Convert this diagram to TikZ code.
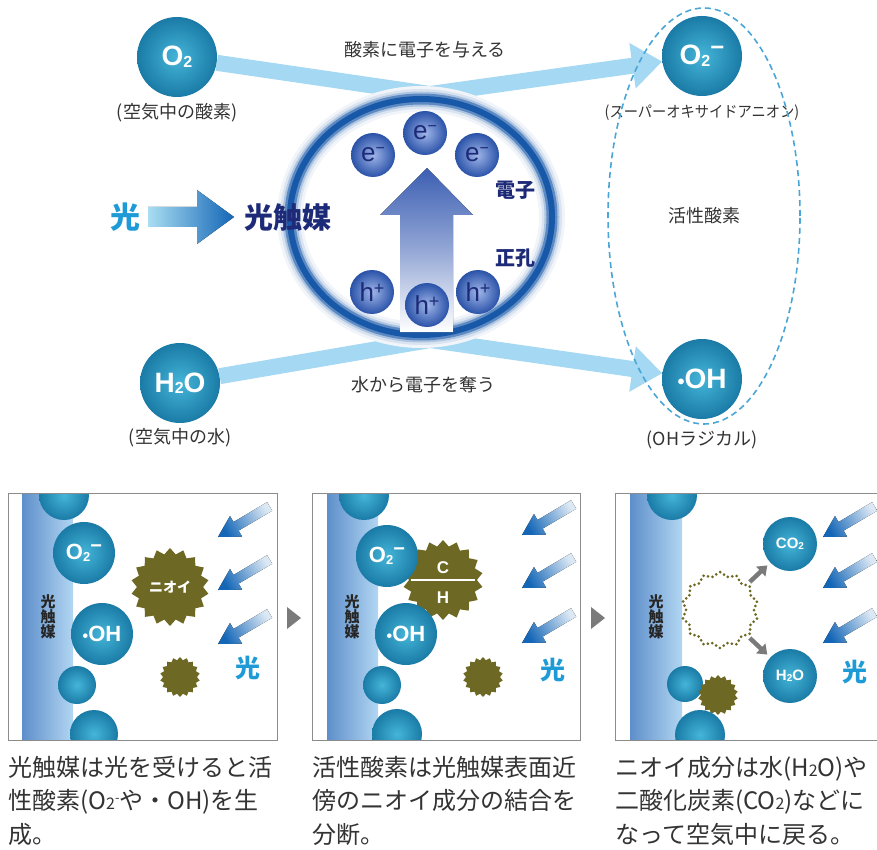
\documentclass[tikz,border=0pt]{standalone}
\usepackage{fontspec}
\setmainfont{Noto Sans CJK JP}
\newfontfamily\latin{Liberation Sans}
\newfontfamily\arial{Liberation Sans}
\usepackage{xcolor}
\usepackage{tikz}
\usetikzlibrary{arrows.meta,shapes.geometric,backgrounds}

\definecolor{navy}{HTML}{1D2A78}
\definecolor{skyband}{HTML}{A5D8F2}
\definecolor{ringblue}{HTML}{1858A8}
\definecolor{lightblue}{HTML}{1E9BD7}
\definecolor{rayblue}{HTML}{1466B6}
\definecolor{arrowlight}{HTML}{A9DDF2}
\definecolor{upblue}{HTML}{3C5FB3}
\definecolor{smellolive}{HTML}{6D6823}
\definecolor{tealin}{HTML}{45B5D8}
\definecolor{tealout}{HTML}{1A7BA6}
\definecolor{bluein}{HTML}{A0B6E8}
\definecolor{blueout}{HTML}{2A52A8}
\definecolor{stripdark}{HTML}{5E8FCB}
\definecolor{striplight}{HTML}{B2D6F2}
\definecolor{panelgrey}{HTML}{8C8C8C}
\definecolor{arrowgrey}{HTML}{7A7A7A}
\definecolor{textgrey}{HTML}{333333}
\definecolor{dashblue}{HTML}{4AA6D6}

\newcommand{\fsz}[1]{\fontsize{#1}{#1}\selectfont}
% incoming light, tip at #1,#2
\newcommand{\lightray}[2]{%
  \begin{scope}[shift={(#1,#2)}, rotate=210.6]
    \fill[top color=rayblue!15, bottom color=rayblue, shading angle=-60]
      (0,0) -- (-21,-12) -- (-21,-5) -- (-60,-5) -- (-60,5) -- (-21,5) -- (-21,12) -- cycle;
  \end{scope}}

\begin{document}
\begin{tikzpicture}[x=1pt, y=-1pt,
    ball/.style={circle, inner sep=0pt, minimum size=80pt, inner color=tealin, outer color=tealout, text=white, font=\latin\bfseries\fsz{28}},
    charge/.style={circle, inner sep=0pt, minimum size=44pt, inner color=bluein, outer color=blueout, text=navy, font=\arial\fsz{26}},
    note/.style={text=textgrey, font=\fsz{18}},
    band/.style={line width=16pt, skyband, line join=round, -{Triangle[length=30pt,width=44pt]}},
    smell/.style={star, star points=18, star point ratio=1.18, fill=smellolive, inner sep=0pt, minimum size=#1, text=white, font=\bfseries\fsz{14}},
    strip/.style={left color=stripdark, right color=striplight},
    panel/.style={draw=panelgrey, line width=0.9pt},
    striptext/.style={align=center, font=\bfseries\fsz{15}, text=black!85, inner sep=0pt},
    lighttext/.style={text=lightblue, font=\bfseries\fsz{25}},
    body/.style={anchor=north west, align=left, inner sep=0pt, text=textgrey, font=\fontsize{24}{33.5}\selectfont},
    gonearrow/.style={-{Triangle[length=9pt,width=13pt]}, line width=4.5pt, arrowgrey, shorten <=3pt, shorten >=4pt}
  ]
  \useasboundingbox (0,0) rectangle (877,850);
  \clip (0,0) rectangle (877,850);

  % photocatalyst ring
  \node[ellipse, minimum width=262pt, minimum height=236pt, fill=white] (cat) at (421,217) {};
  \foreach \w/\c in {26/6, 20/16, 15/35, 11/70, 6/100}
    \draw[line width=\w pt, ringblue!\c] (cat.center) ellipse (131 and 118);
  \fill[top color=upblue, bottom color=white, middle color=upblue!55]
    (427,168) -- (473,215) -- (453,215) -- (453,332) -- (400,332) -- (400,215) -- (380,215) -- cycle;

  % Nodes
  \node[charge] (e1) at (373,155) {e\raisebox{8pt}{\fsz{16}\textminus}};
  \node[charge] (e2) at (425,133) {e\raisebox{8pt}{\fsz{16}\textminus}};
  \node[charge] (e3) at (477,155) {e\raisebox{8pt}{\fsz{16}\textminus}};
  \node[charge] (h1) at (372,292) {h\raisebox{7pt}{\fsz{18}+}};
  \node[charge] (h2) at (427,305) {h\raisebox{7pt}{\fsz{18}+}};
  \node[charge] (h3) at (478,292) {h\raisebox{7pt}{\fsz{18}+}};
  \node[text=navy, font=\bfseries\fsz{20}] (elec) at (515,190) {電子};
  \node[text=navy, font=\bfseries\fsz{20}] (hole) at (515,258) {正孔};

  \node[text=lightblue, font=\bfseries\fsz{30}] (light) at (125,217) {光};
  \node[text=navy, font=\bfseries\fsz{29}] (photocat) at (288,217) {光触媒};
  \fill[left color=arrowlight, right color=rayblue]
    (148,207) -- (197,207) -- (197,190) -- (234,217) -- (197,244) -- (197,227) -- (148,227) -- cycle;

  \node[ball] (o2) at (177,57) {O\raisebox{-2pt}{\fsz{16}2}};
  \node[ball] (o2m) at (702,56) {O\raisebox{-2pt}{\fsz{16}2}\raisebox{9pt}{\fsz{24}\textminus}};
  \node[ball] (h2o) at (180,383) {H\raisebox{-1pt}{\fsz{16}2}O};
  \node[ball] (oh) at (702,379) {{\fsz{20}•}OH};
  \node[note] (o2txt) at (177,113) {(空気中の酸素)};
  \node[note, font=\fsz{15.5}] (o2mtxt) at (702,113) {\scalebox{0.92}[1]{(スーパーオキサイドアニオン)}};
  \node[note] (h2otxt) at (180,438) {(空気中の水)};
  \node[note] (ohtxt) at (702,440) {(OHラジカル)};
  \node[ellipse, draw=dashblue, line width=1.6pt, dash pattern=on 6pt off 4pt,
        minimum width=192pt, minimum height=416pt, note] (active) at (704,216) {活性酸素};

  % Edges
  \coordinate (topmeet) at (430,94);
  \coordinate (botmeet) at (430,340);
  \begin{scope}[on background layer]
    \draw[band] (o2) -- (topmeet) -- (o2m);
    \draw[band] (h2o) -- (botmeet) -- (oh);
  \end{scope}
  \node[note] (give) at (425,50) {酸素に電子を与える};
  \node[note] (take) at (423,385) {水から電子を奪う};

  % panel 1
  \begin{scope}
    \clip (8,493) rectangle (277,740);
    \fill[strip] (22,493) rectangle (73,740);
    \node[ball, minimum size=50pt] (p1a) at (64,495) {};
    \node[ball, minimum size=62pt, font=\latin\bfseries\fsz{22}] (p1o2) at (84,553) {O\raisebox{-2pt}{\fsz{13}2}\raisebox{7pt}{\fsz{20}\textminus}};
    \node[ball, minimum size=62pt, font=\latin\bfseries\fsz{22}] (p1oh) at (102,634) {{\fsz{16}•}OH};
    \node[ball, minimum size=38pt] (p1b) at (77,685) {};
    \node[ball, minimum size=48pt] (p1c) at (94,734) {};
    \node[smell=78pt] (p1smell) at (170,587) {ニオイ};
    \node[smell=40pt] (p1bit) at (180,677) {};
    \lightray{218}{537}
    \lightray{218}{590}
    \lightray{218}{644}
    \node[lighttext] (p1light) at (248,668) {光};
    \node[striptext] (p1cat) at (48,617) {光\\触\\媒};
  \end{scope}
  \draw[panel] (8,493) rectangle (277,740);
  \fill[arrowgrey] (287,607) -- (301,618) -- (287,629) -- cycle;

  % panel 2
  \begin{scope}
    \clip (312,493) rectangle (580,740);
    \fill[strip] (327,493) rectangle (378,740);
    \node[smell=80pt] (p2ch) at (443,580) {};
    \draw[white, line width=1.4pt] ([xshift=-32pt]p2ch.center) -- ([xshift=32pt]p2ch.center);
    \node[text=white, font=\latin\bfseries\fsz{17}] (p2c) at (443,568) {C};
    \node[text=white, font=\latin\bfseries\fsz{17}] (p2h) at (443,598) {H};
    \node[ball, minimum size=50pt] (p2a) at (364,495) {};
    \node[ball, minimum size=62pt, font=\latin\bfseries\fsz{22}] (p2o2) at (387,556) {O\raisebox{-2pt}{\fsz{13}2}\raisebox{7pt}{\fsz{20}\textminus}};
    \node[ball, minimum size=62pt, font=\latin\bfseries\fsz{22}] (p2oh) at (406,634) {{\fsz{16}•}OH};
    \node[ball, minimum size=38pt] (p2b) at (382,685) {};
    \node[ball, minimum size=50pt] (p2c) at (397,734) {};
    \node[smell=40pt] (p2bit) at (483,677) {};
    \lightray{522}{535}
    \lightray{522}{588}
    \lightray{522}{643}
    \node[lighttext] (p2light) at (553,670) {光};
    \node[striptext] (p2cat) at (352,617) {光\\触\\媒};
  \end{scope}
  \draw[panel] (312,493) rectangle (580,740);
  \fill[arrowgrey] (591,607) -- (605,618) -- (591,629) -- cycle;

  % panel 3
  \begin{scope}
    \clip (615,493) rectangle (895,740);
    \fill[strip] (630,493) rectangle (682,740);
    \node[ball, minimum size=50pt] (p3a) at (672,495) {};
    \node[ball, minimum size=36pt] (p3b) at (685,684) {};
    \node[smell=40pt] (p3bit) at (718,695) {};
    \node[ball, minimum size=50pt] (p3c) at (700,735) {};
    \node[star, star points=14, star point ratio=1.12, draw=smellolive, line width=3pt, line cap=round,
          dash pattern=on 0pt off 4.5pt, minimum size=76pt, inner sep=0pt] (gone) at (720,610) {};
    \node[ball, minimum size=54pt, font=\latin\bfseries\fsz{15}] (co2) at (790,544) {CO\raisebox{-1pt}{\fsz{10}2}};
    \node[ball, minimum size=54pt, font=\latin\bfseries\fsz{15}] (water) at (790,676) {H\raisebox{-1pt}{\fsz{10}2}O};
    \draw[gonearrow] (gone) -- (co2);
    \draw[gonearrow] (gone) -- (water);
    \lightray{823}{537}
    \lightray{823}{588}
    \lightray{823}{643}
    \node[lighttext] (p3light) at (855,672) {光};
    \node[striptext] (p3cat) at (656,617) {光\\触\\媒};
  \end{scope}
  \draw[panel] (615,493) rectangle (895,740);

  % captions
  \node[body] (cap1) at (8,756) {光触媒は光を受けると活\\性酸素(O{\fsz{16}2}\raisebox{7pt}{\fsz{13}-}や・OH)を生\\成。};
  \node[body] (cap2) at (312,756) {活性酸素は光触媒表面近\\傍のニオイ成分の結合を\\分断。};
  \node[body] (cap3) at (615,756) {ニオイ成分は水(H{\fsz{16}2}O)や\\二酸化炭素(CO{\fsz{16}2})などに\\なって空気中に戻る。};
\end{tikzpicture}
\end{document}
